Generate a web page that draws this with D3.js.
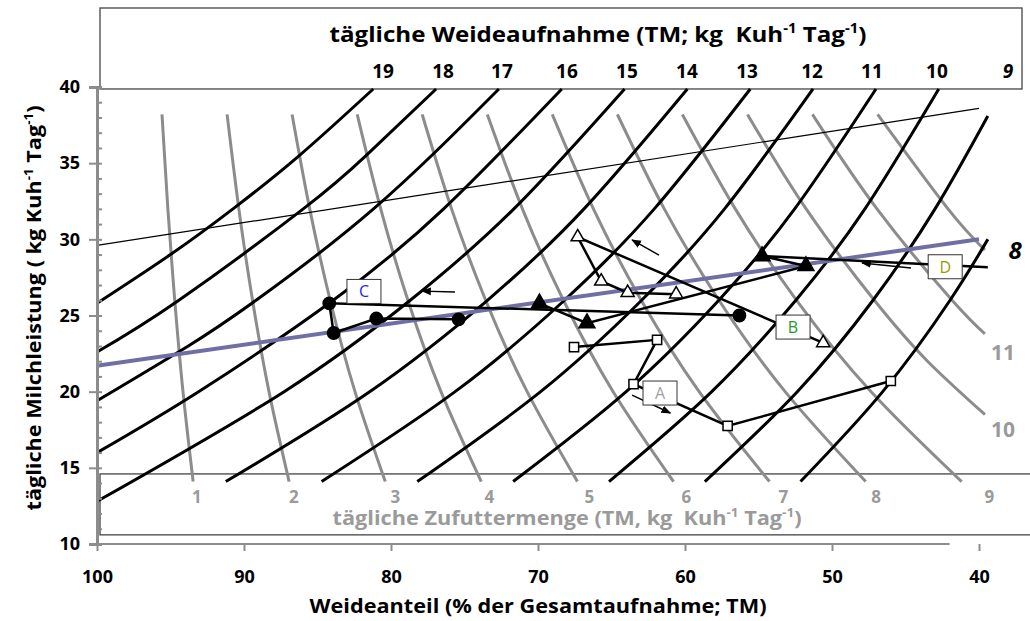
<!DOCTYPE html>
<html>
<head>
<meta charset="utf-8">
<script src="https://cdnjs.cloudflare.com/ajax/libs/d3/7.8.5/d3.min.js"></script>
<style>
body { margin: 0; background: #fff; }
text { font-family: "Open Sans", Lato, sans-serif; font-weight: bold; }
</style>
</head>
<body>
<div class="canvas"></div>
<script>
// ---- data ----
// x = Weideanteil (%), y = tägliche Milchleistung (kg)
const xTicks = [100, 90, 80, 70, 60, 50, 40]
const yTicks = [10, 15, 20, 25, 30, 35, 40]

// black iso-lines: tägliche Weideaufnahme (kg TM)
const pastureLevels = [19, 18, 17, 16, 15, 14, 13, 12, 11, 10, 9, 8]
const pastureCurves = [
  [[100, 25.8], [95.0, 29], [90.75, 32], [86.24, 35.5], [81.21, 39.87]],
  [[100, 22.6], [94.43, 26], [85.97, 32], [81.7, 35.5], [76.93, 39.87]],
  [[100, 19.4], [93.79, 23], [89.18, 26], [81.19, 32], [72.66, 39.87]],
  [[100, 16.0], [93.09, 20], [83.93, 26], [76.42, 32], [68.38, 39.87]],
  [[100, 12.8], [87.27, 20], [78.69, 26], [71.64, 32], [64.11, 39.87]],
  [[91.24, 14.1], [81.45, 20], [73.44, 26], [66.87, 32], [59.84, 39.87]],
  [[84.72, 14.1], [75.64, 20], [68.2, 26], [62.09, 32], [55.56, 39.87]],
  [[78.21, 14.1], [69.82, 20], [62.95, 26], [57.31, 32], [51.29, 39.87]],
  [[71.69, 14.1], [64.0, 20], [57.7, 26], [52.54, 32], [47.01, 39.87]],
  [[65.17, 14.1], [58.18, 20], [52.46, 26], [47.76, 32], [42.74, 39.87]],
  [[58.65, 14.1], [52.36, 20], [47.21, 26], [42.99, 32], [39.4, 38.1]],
  [[52.14, 14.1], [46.55, 20], [41.97, 26], [39.4, 30.0]]
]
// where the numbers of the black lines sit (top row), share %
const pastureLabelShare = [80.54, 76.46, 72.45, 68.03, 63.95, 59.87, 55.78, 51.36, 47.28, 42.86, 38.03]

// grey iso-lines: tägliche Zufuttermenge (kg TM)
const suppLevels = [1, 2, 3, 4, 5, 6, 7, 8, 9, 10, 11, 12]
const suppCurves = [
  [[95.58, 38.2], [95.18, 32], [94.71, 26], [94.15, 20], [93.46, 14.1]],
  [[91.15, 38.2], [90.35, 32], [89.42, 26], [88.3, 20], [86.93, 14.1]],
  [[86.73, 38.2], [85.53, 32], [84.14, 26], [82.45, 20], [80.39, 14.1]],
  [[82.3, 38.2], [80.7, 32], [78.85, 26], [76.6, 20], [73.86, 14.1]],
  [[77.88, 38.2], [75.88, 32], [73.56, 26], [70.74, 20], [67.32, 14.1]],
  [[73.45, 38.2], [71.06, 32], [68.27, 26], [64.89, 20], [60.78, 14.1]],
  [[69.03, 38.2], [66.23, 32], [62.98, 26], [59.04, 20], [54.25, 14.1]],
  [[64.6, 38.2], [61.41, 32], [57.69, 26], [53.19, 20], [47.71, 14.1]],
  [[60.18, 38.2], [56.58, 32], [52.41, 26], [47.34, 20], [41.18, 14.1]],
  [[55.75, 38.2], [51.76, 32], [47.12, 26], [43.5, 22], [39.6, 18.5]],
  [[51.33, 38.2], [46.94, 32], [41.83, 26], [39.6, 23.8]],
  [[46.9, 38.2], [42.11, 32], [39.6, 29.3]]
]
const suppLabelShare = [93.2, 86.6, 79.7, 73.3, 66.5, 59.9, 53.3, 47.0, 39.3]
const suppLabelMilk = 13.1
// labels at the right edge: [text, share, milk]
const sideLabels = [["8", 37.55, 29.3], ["11", 38.37, 22.6], ["10", 38.37, 17.5]]

// straight reference lines
const thinLine = [[100, 29.6], [40, 38.6]]
const blueLine = [[100, 21.7], [40, 30.0]]

// measured herds, in time order
const seriesA = [[67.55, 22.93], [61.9, 23.4], [63.5, 20.5], [57.1, 17.75], [46.0, 20.7]]
const seriesB = [[50.6, 23.2], [67.3, 30.15], [65.7, 27.25], [63.9, 26.5], [60.6, 26.4]]
const seriesC = [[56.3, 25.0], [84.2, 25.8], [83.9, 23.85], [81.0, 24.8], [75.4, 24.75]]
const seriesD = [[37.0, 28.05], [54.76, 28.9], [51.77, 28.25], [66.67, 24.5], [69.9, 25.8]]

// name boxes and direction arrows
const boxNames = ["A", "B", "C", "D"]
const boxAt = [[61.7, 19.91], [52.65, 24.24], [81.84, 26.58], [42.3, 28.2]]
const arrows = [
  [[63.6, 19.78], [61.0, 18.6]],
  [[61.77, 28.97], [63.6, 29.96]],
  [[75.65, 26.54], [77.89, 26.6]],
  [[44.63, 28.12], [47.96, 28.45]]
]

// ---- drawing ----
const width = 1030
const height = 621
const grey = "#8c8c8c"

const svg = d3.select(".canvas")
  .append("svg")
  .attr("width", width)
  .attr("height", height)

const x = d3.scaleLinear().domain([100, 40]).range([97, 979])
const y = d3.scaleLinear().domain([10, 40]).range([544, 87])

const line = d3.line().x(d => x(d[0])).y(d => y(d[1]))
const smooth = d3.line().x(d => x(d[0])).y(d => y(d[1])).curve(d3.curveNatural)

const defs = svg.append("defs")
defs.append("clipPath").attr("id", "plot")
  .append("rect")
  .attr("x", x(100)).attr("y", 0)
  .attr("width", x(39.4) - x(100)).attr("height", height)
defs.append("marker")
  .attr("id", "head")
  .attr("viewBox", "0 0 10 10")
  .attr("refX", 9).attr("refY", 5)
  .attr("markerWidth", 7).attr("markerHeight", 7)
  .attr("orient", "auto")
  .append("path").attr("d", "M0,1 L10,5 L0,9 Z").attr("fill", "#000")

// boxes for the two secondary scales
svg.append("rect")
  .attr("x", x(100) + 3).attr("y", 8)
  .attr("width", 1022 - x(100) - 3).attr("height", y(39.87) - 8)
  .attr("fill", "none").attr("stroke", "#444").attr("stroke-width", 1.3)
svg.append("rect")
  .attr("x", x(100) + 3).attr("y", y(14.6))
  .attr("width", 960).attr("height", y(10.6) - y(14.6))
  .attr("fill", "none").attr("stroke", "#444").attr("stroke-width", 1.3)

// grey lines
svg.append("g").selectAll("path")
  .data(suppCurves)
  .enter().append("path")
  .attr("d", smooth)
  .attr("fill", "none")
  .attr("stroke", grey)
  .attr("stroke-width", 3)

// black lines
svg.append("g").selectAll("path")
  .data(pastureCurves)
  .enter().append("path")
  .attr("d", smooth)
  .attr("fill", "none")
  .attr("stroke", "#000")
  .attr("stroke-width", 3)

svg.append("path").attr("d", line(thinLine))
  .attr("fill", "none").attr("stroke", "#000").attr("stroke-width", 1.2)
svg.append("path").attr("d", line(blueLine))
  .attr("fill", "none").attr("stroke", "#6f6fa3").attr("stroke-width", 4)

// series
const series = svg.append("g").attr("clip-path", "url(#plot)")
const allSeries = [seriesA, seriesB, seriesC, seriesD]
series.selectAll("path.trace")
  .data(allSeries)
  .enter().append("path")
  .attr("class", "trace")
  .attr("d", line)
  .attr("fill", "none")
  .attr("stroke", "#000")
  .attr("stroke-width", 2.5)

const sym = [
  d3.symbol().type(d3.symbolSquare).size(85),
  d3.symbol().type(d3.symbolTriangle).size(75),
  d3.symbol().type(d3.symbolCircle).size(120),
  d3.symbol().type(d3.symbolTriangle).size(110)
]
const filled = [false, false, true, true]
allSeries.forEach((s, i) => {
  series.selectAll("path.m" + i)
    .data(s)
    .enter().append("path")
    .attr("class", "m" + i)
    .attr("d", sym[i])
    .attr("transform", d => `translate(${x(d[0])},${y(d[1])})`)
    .attr("fill", filled[i] ? "#000" : "#fff")
    .attr("stroke", "#000")
    .attr("stroke-width", 1.5)
})

// arrows
svg.append("g").selectAll("line")
  .data(arrows)
  .enter().append("line")
  .attr("x1", d => x(d[0][0])).attr("y1", d => y(d[0][1]))
  .attr("x2", d => x(d[1][0])).attr("y2", d => y(d[1][1]))
  .attr("stroke", "#000").attr("stroke-width", 1.4)
  .attr("marker-end", "url(#head)")

// name boxes
const boxColors = ["#a0a0a0", "#1f9a2a", "#1f1fff", "#9a9a00"]
const boxes = svg.append("g").selectAll("g")
  .data(boxNames)
  .enter().append("g")
  .attr("transform", (d, i) => `translate(${x(boxAt[i][0])},${y(boxAt[i][1])})`)
boxes.append("rect")
  .attr("x", -17).attr("y", -12).attr("width", 34).attr("height", 24)
  .attr("fill", "#fff").attr("stroke", "#333").attr("stroke-width", 1)
boxes.append("text")
  .text(d => d)
  .attr("text-anchor", "middle").attr("dy", "0.36em")
  .style("font-weight", "normal").style("font-size", "16px")
  .attr("fill", (d, i) => boxColors[i])

// axes
const yAxis = svg.append("g").attr("transform", `translate(${x(100)},0)`)
  .call(d3.axisLeft(y).tickValues(yTicks).tickSize(8).tickPadding(9).tickFormat(d3.format("d")))
yAxis.append("g").call(d3.axisRight(y).ticks(30).tickSize(5).tickFormat(""))
yAxis.selectAll("path.domain").attr("stroke", grey).attr("stroke-width", 3)
yAxis.selectAll("line").attr("stroke", grey).attr("stroke-width", 2)
yAxis.selectAll("text").style("font-size", "18px").attr("fill", "#000")

const xAxis = svg.append("g").attr("transform", `translate(0,${y(10)})`)
  .call(d3.axisBottom(x).tickValues(xTicks).tickSize(7).tickPadding(19))
xAxis.select("path.domain").remove()
xAxis.append("line")
  .attr("x1", x(100)).attr("x2", x(42))
  .attr("stroke", grey).attr("stroke-width", 3)
xAxis.selectAll("line").attr("stroke", grey).attr("stroke-width", 2)
xAxis.selectAll("text").style("font-size", "18px").attr("fill", "#000")

// helper for texts with superscripts
function richText(sel, parts) {
  parts.forEach(p => {
    if (p.sup) {
      sel.append("tspan").text(p.t).attr("baseline-shift", "super").style("font-size", "0.62em")
    } else {
      sel.append("tspan").text(p.t)
    }
  })
  return sel
}

richText(svg.append("text")
  .attr("x", 598).attr("y", 42)
  .attr("text-anchor", "middle")
  .attr("textLength", 537).attr("lengthAdjust", "spacingAndGlyphs")
  .style("font-size", "22px"),
  [{t: "tägliche Weideaufnahme (TM; kg\u00a0 Kuh"}, {t: "-1", sup: true}, {t: " Tag"}, {t: "-1", sup: true}, {t: ")"}])

richText(svg.append("text")
  .attr("x", 538).attr("y", 613)
  .attr("text-anchor", "middle")
  .attr("textLength", 457).attr("lengthAdjust", "spacingAndGlyphs")
  .style("font-size", "20px"),
  [{t: "Weideanteil (% der Gesamtaufnahme; TM)"}])

richText(svg.append("text")
  .attr("transform", "translate(41,308) rotate(-90)")
  .attr("text-anchor", "middle")
  .attr("textLength", 405).attr("lengthAdjust", "spacingAndGlyphs")
  .style("font-size", "20px"),
  [{t: "tägliche Milchleistung ( kg Kuh"}, {t: "-1", sup: true}, {t: " Tag"}, {t: "-1", sup: true}, {t: ")"}])

richText(svg.append("text")
  .attr("x", 567).attr("y", y(11.25))
  .attr("text-anchor", "middle")
  .attr("textLength", 469).attr("lengthAdjust", "spacingAndGlyphs")
  .attr("fill", "#9a9a9a")
  .style("font-size", "20px"),
  [{t: "tägliche Zufuttermenge (TM, kg\u00a0 Kuh"}, {t: "-1", sup: true}, {t: " Tag"}, {t: "-1", sup: true}, {t: ")"}])

// numbers of the black lines
svg.append("g").selectAll("text")
  .data(pastureLabelShare)
  .enter().append("text")
  .attr("x", d => x(d)).attr("y", 78)
  .attr("text-anchor", "middle")
  .style("font-size", "19px")
  .style("font-style", (d, i) => pastureLevels[i] === 9 ? "italic" : "normal")
  .text((d, i) => pastureLevels[i])

// numbers of the grey lines
svg.append("g").selectAll("text")
  .data(suppLabelShare)
  .enter().append("text")
  .attr("x", d => x(d)).attr("y", y(suppLabelMilk))
  .attr("dy", "0.36em")
  .attr("text-anchor", "middle")
  .attr("fill", "#9a9a9a")
  .style("font-size", "17px")
  .text((d, i) => suppLevels[i])

svg.append("g").selectAll("text")
  .data(sideLabels)
  .enter().append("text")
  .attr("x", d => x(d[1])).attr("y", d => y(d[2]))
  .attr("dy", "0.36em")
  .attr("text-anchor", "middle")
  .attr("fill", d => d[0] === "8" ? "#000" : "#9a9a9a")
  .style("font-size", d => d[0] === "8" ? "24px" : "21px")
  .style("font-style", d => d[0] === "8" ? "italic" : "normal")
  .text(d => d[0])
</script>
</body>
</html>
